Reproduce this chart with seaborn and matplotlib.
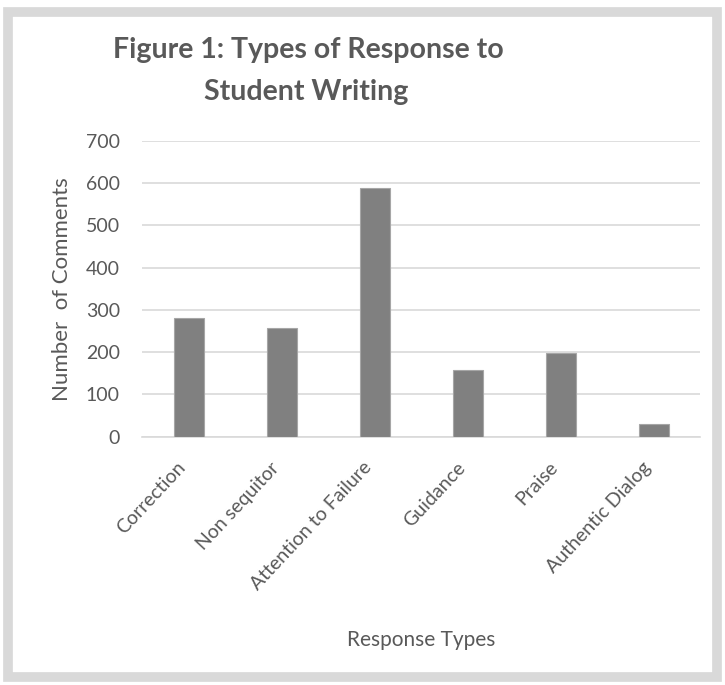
import matplotlib
matplotlib.use("Agg")
import matplotlib.pyplot as plt
import matplotlib.transforms as mtrans
import pandas as pd
import seaborn as sns
from matplotlib.patches import Rectangle

categories = ["Correction", "Non sequitor", "Attention to Failure", "Guidance", "Praise", "Authentic Dialog"]
comments = [280, 256, 587, 157, 197, 30]
yticks = [0, 100, 200, 300, 400, 500, 600, 700]

df = pd.DataFrame({"type": categories, "count": comments})

sns.set_style("white")
plt.rcParams["font.family"] = ["Lato", "DejaVu Sans"]
TXT = "#595959"

fig = plt.figure(figsize=(7.25, 6.85), dpi=100)
ax = fig.add_axes([0.196, 0.3625, 0.770, 0.4321])

sns.barplot(df, x="type", y="count", color="#808080", width=0.32,
            edgecolor="#a6a6a6", linewidth=0.8, saturation=1, ax=ax, zorder=3)

ax.set_ylim(0, 700)
ax.set_yticks(yticks)
ax.yaxis.grid(True, color="#d9d9d9", linewidth=1.2, zorder=0)
for s in ["top", "right", "left"]:
    ax.spines[s].set_visible(False)
ax.spines["bottom"].set_color("#d9d9d9")
ax.spines["bottom"].set_linewidth(1.2)
ax.tick_params(axis="both", length=0, colors=TXT)
ax.tick_params(axis="y", pad=16, labelsize=14)
ax.tick_params(axis="x", pad=16, labelsize=14)
shift = mtrans.ScaledTranslation(-12 / 100, 0, fig.dpi_scale_trans)
for lab in ax.get_xticklabels():
    lab.set_rotation(47)
    lab.set_ha("right")
    lab.set_rotation_mode("anchor")
    lab.set_transform(lab.get_transform() + shift)
ax.set_xlabel("Response Types", color=TXT, fontsize=15, labelpad=26)
ax.set_ylabel("Number  of Comments", color=TXT, fontsize=16, labelpad=10)

fig.text(0.425, 0.927, "Figure 1: Types of Response to", ha="center", va="center",
         fontsize=20.5, fontweight="bold", color=TXT)
fig.text(0.423, 0.866, "Student Writing", ha="center", va="center",
         fontsize=20.5, fontweight="bold", color=TXT)

fig.patches.append(Rectangle((0.011, 0.012), 0.978, 0.970, transform=fig.transFigure,
                             fill=False, edgecolor="#d9d9d9", linewidth=7, zorder=0))

fig.savefig("out.png", dpi=100, facecolor="white")
